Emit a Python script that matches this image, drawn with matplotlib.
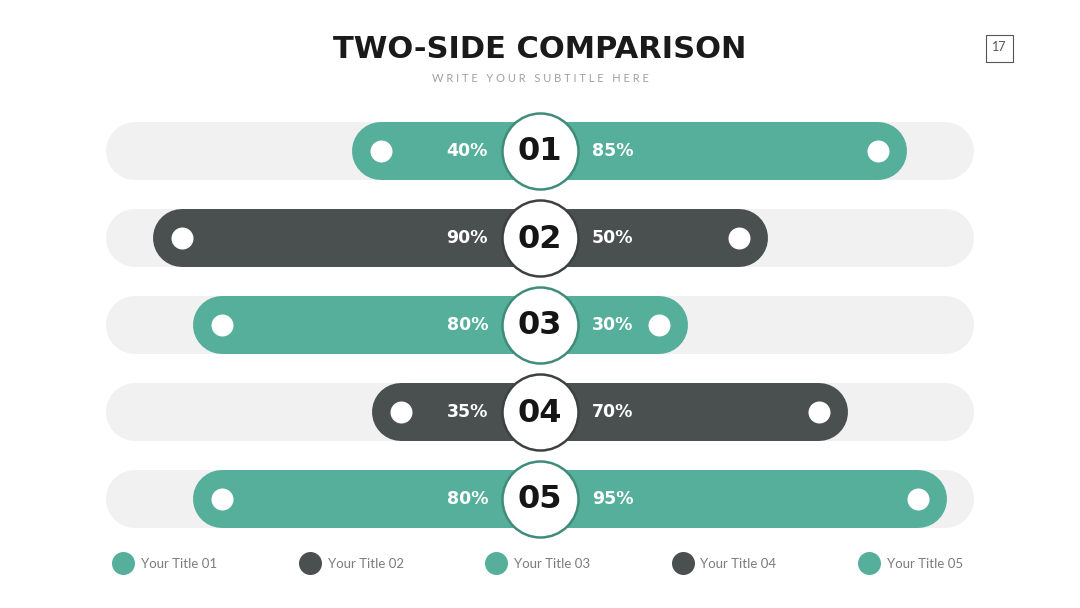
import matplotlib.pyplot as plt

# chart values
labels = ['01', '02', '03', '04', '05']
left_vals = [40, 90, 80, 35, 80]
right_vals = [85, 50, 30, 70, 95]
legend_names = ['Your Title 01', 'Your Title 02', 'Your Title 03', 'Your Title 04', 'Your Title 05']

TEAL = '#55af9b'
TEAL_EDGE = '#3f8c7a'
DARK = '#4a4f50'
TRACK = '#f1f1f1'

px = 3.98  # pixels per percent
fig = plt.figure(figsize=(10.8, 6.08), dpi=100)
ax = fig.add_axes([0, 0, 1, 1])
ax.set_xlim(-540 / px, 540 / px)
ax.set_ylim(608, 0)
ax.axis('off')

bar_lw = 58 * 0.72
track_half = 405 / px

for i, (lab, lv, rv) in enumerate(zip(labels, left_vals, right_vals)):
    y = 151 + 87 * i
    col = TEAL if i % 2 == 0 else DARK
    edge = TEAL_EDGE if i % 2 == 0 else '#3c4142'
    ax.plot([-track_half, track_half], [y, y], color=TRACK, lw=bar_lw,
            solid_capstyle='round', zorder=1)
    ax.plot([-lv, rv], [y, y], color=col, lw=bar_lw, solid_capstyle='round', zorder=2)
    ax.scatter([-lv, rv], [y, y], s=(22 * 0.72) ** 2, color='white', zorder=3, linewidths=0)
    ax.scatter([0], [y], s=(76 * 0.72) ** 2, color='white', edgecolors=edge,
               linewidths=1.8, zorder=4)
    ax.text(0, y + 1, lab, ha='center', va='center', fontsize=23, fontweight='bold',
            color='#151515', zorder=5)
    ax.text(-52 / px, y, f'{lv}%', ha='right', va='center', fontsize=12.5,
            fontweight='bold', color='white', zorder=5)
    ax.text(52 / px, y, f'{rv}%', ha='left', va='center', fontsize=12.5,
            fontweight='bold', color='white', zorder=5)

# legend
for i, name in enumerate(legend_names):
    x = (123 + 186.5 * i - 540) / px
    col = TEAL if i % 2 == 0 else DARK
    ax.scatter([x], [563], s=(23 * 0.72) ** 2, color=col, linewidths=0)
    ax.text(x + 18 / px, 564, name, ha='left', va='center', fontsize=9.5,
            family='Lato', color='#7c7c7c')

# title
ax.text(0, 49, 'TWO-SIDE COMPARISON', ha='center', va='center', fontsize=22,
        fontweight='heavy', color='#1a1a1a')
ax.text(0, 79, ' '.join('WRITE YOUR SUBTITLE HERE'),
        ha='center', va='center', fontsize=8, family='Lato', color='#a0a0a0')

# page number box
ax.add_patch(plt.Rectangle(((986 - 540) / px, 35), 27 / px, 27, fill=False,
                           edgecolor='#555555', lw=0.8))
ax.text((999.5 - 540) / px, 47, '17', ha='center', va='center', fontsize=9,
        family='Lato', color='#555555')

fig.savefig('out.png', dpi=100)
